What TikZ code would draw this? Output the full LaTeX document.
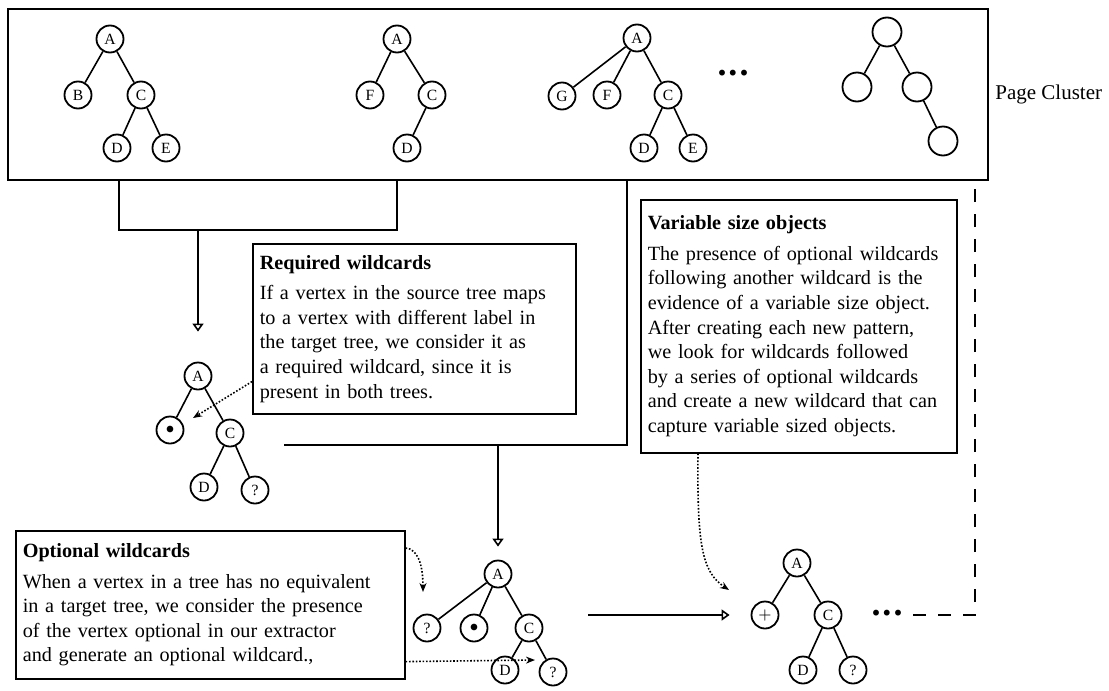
\documentclass[tikz,border=0pt]{standalone}
\usepackage{fontspec}
\setmainfont{Liberation Serif}
\usetikzlibrary{arrows.meta}
\hyphenpenalty=10000
\exhyphenpenalty=10000
\begin{document}
\begin{tikzpicture}[x=0.5pt,y=-0.5pt,
 vtx/.style={circle,draw,line width=0.9pt,minimum size=13.5pt,inner sep=0pt,font=\fontsize{7.8}{8}\selectfont},
 evtx/.style={vtx,minimum size=14.5pt},
 edge/.style={line width=0.8pt},
 conn/.style={line width=0.8pt},
 openarrow/.style={-{Triangle[open,length=4pt,width=5.5pt,line width=0.8pt]}},
 dotarrow/.style={line width=0.8pt,dash pattern=on 0.8pt off 0.9pt,-{Stealth[length=4.5pt,width=3.5pt]}},
 fbdash/.style={line width=0.8pt,dash pattern=on 6.5pt off 6pt},
 textbox/.style={draw,line width=0.8pt,align=left,inner xsep=3.5pt,inner ysep=5.5pt,anchor=north west,font=\fontsize{10.1}{12.3}\selectfont},
 ellip/.style={inner sep=0pt,anchor=base,font=\fontsize{18}{18}\selectfont\bfseries}
]
\useasboundingbox (0,0) rectangle (1109,691);

% page cluster box
\node[draw,line width=0.8pt,minimum width=490pt,minimum height=85.5pt,anchor=north west,inner sep=0pt] (cluster) at (7,8) {};
\node[anchor=west,inner sep=0pt,font=\fontsize{10.5}{12}\selectfont] (pc) at (995,94) {Page Cluster};

% tree 1
\node[vtx] (t1A) at (110,39) {A};
\node[vtx] (t1B) at (78,95) {B};
\node[vtx] (t1C) at (141,95) {C};
\node[vtx] (t1D) at (117,148) {D};
\node[vtx] (t1E) at (166,148) {E};
\draw[edge] (t1A) -- (t1B); \draw[edge] (t1A) -- (t1C);
\draw[edge] (t1C) -- (t1D); \draw[edge] (t1C) -- (t1E);

% tree 2
\node[vtx] (t2A) at (397,39) {A};
\node[vtx] (t2F) at (370,95) {F};
\node[vtx] (t2C) at (432,95) {C};
\node[vtx] (t2D) at (407,148) {D};
\draw[edge] (t2A) -- (t2F); \draw[edge] (t2A) -- (t2C);
\draw[edge] (t2C) -- (t2D);

% tree 3
\node[vtx] (t3A) at (637,38) {A};
\node[vtx] (t3G) at (562,96) {G};
\node[vtx] (t3F) at (607,95) {F};
\node[vtx] (t3C) at (668,95) {C};
\node[vtx] (t3D) at (644,148) {D};
\node[vtx] (t3E) at (693,148) {E};
\draw[edge] (t3A) -- (t3G); \draw[edge] (t3A) -- (t3F); \draw[edge] (t3A) -- (t3C);
\draw[edge] (t3C) -- (t3D); \draw[edge] (t3C) -- (t3E);
\node[ellip] (dots1) at (733,75) {.\kern1pt.\kern1pt.};

% tree 4 (empty)
\node[evtx] (t4R) at (887,32) {};
\node[evtx] (t4L) at (857,87) {};
\node[evtx] (t4M) at (917,87) {};
\node[evtx] (t4N) at (943,141) {};
\draw[edge] (t4R) -- (t4L); \draw[edge] (t4R) -- (t4M); \draw[edge] (t4M) -- (t4N);

% middle tree
\node[vtx] (mA) at (198,376) {A};
\node[vtx] (mW) at (170,430) {$\bullet$};
\node[vtx] (mC) at (230,433) {C};
\node[vtx] (mD) at (204,487) {D};
\node[vtx] (mQ) at (255,490) {?};
\draw[edge] (mA) -- (mW); \draw[edge] (mA) -- (mC);
\draw[edge] (mC) -- (mD); \draw[edge] (mC) -- (mQ);

% bottom middle tree
\node[vtx] (bA) at (498,574) {A};
\node[vtx] (bQ1) at (427,628) {?};
\node[vtx] (bW) at (474,628) {$\bullet$};
\node[vtx] (bC) at (529,628) {C};
\node[vtx] (bD) at (505,670) {D};
\node[vtx] (bQ2) at (553,672) {?};
\draw[edge] (bA) -- (bQ1); \draw[edge] (bA) -- (bW); \draw[edge] (bA) -- (bC);
\draw[edge] (bC) -- (bD); \draw[edge] (bC) -- (bQ2);

% bottom right tree
\node[vtx] (rA) at (797,563) {A};
\node[vtx] (rP) at (765,615) {$+$};
\node[vtx] (rC) at (828,615) {C};
\node[vtx] (rD) at (803,670) {D};
\node[vtx] (rQ) at (853,670) {?};
\draw[edge] (rA) -- (rP); \draw[edge] (rA) -- (rC);
\draw[edge] (rC) -- (rD); \draw[edge] (rC) -- (rQ);
\node[ellip] (dots2) at (887,615) {.\kern1pt.\kern1pt.};

% text boxes
\node[textbox,text width=154.5pt,minimum height=85pt] (req) at (252,243) {\textbf{Required wildcards}\\[3pt]
If a vertex in the source tree maps\\
to a vertex with different label in\\
the target tree, we consider it as\\
a required wildcard, since it is\\
present in both trees.};

\node[textbox,text width=151pt,minimum height=126.5pt] (var) at (640,199) {\textbf{Variable size objects}\\[3pt]
The presence of optional wildcards\\
following another wildcard is the\\
evidence of a variable size object.\\
After creating each new pattern,\\
we look for wildcards followed\\
by a series of optional wildcards\\
and create a new wildcard that can\\
capture variable sized objects.};

\node[textbox,text width=187.5pt,minimum height=74pt] (opt) at (15,530) {\textbf{Optional wildcards}\\[3pt]
When a vertex in a tree has no equivalent\\
in a target tree, we consider the presence\\
of the vertex optional in our extractor\\
and generate an optional wildcard.,};

% connectors
\coordinate (c1a) at (119,179);
\coordinate (c1b) at (397,179);
\coordinate (j1) at (198,230);
\draw[conn] (c1a) |- (c1b |- j1) -- (c1b);
\draw[conn,openarrow,shorten >=15pt] (j1) -- (mA);

\coordinate (c2a) at (627,179);
\coordinate (c2b) at (284,445);
\coordinate (j2) at (498,445);
\draw[conn] (c2a) |- (c2b);
\draw[conn,openarrow,shorten >=6.5pt] (j2) -- (bA);

\coordinate (s3) at (588,615);
\draw[conn,openarrow,shorten >=10.5pt] (s3) -- (rP);

\coordinate (fb) at (913,615);
\coordinate (fbtop) at (975,179);
\draw[fbdash] (fb) -| (fbtop);

% dotted annotation arrows
\coordinate (d1end) at (193,418);
\draw[dotarrow] ([yshift=16.5pt]req.south west) -- (d1end);
\coordinate (d2end) at (423,592);
\draw[dotarrow] ([yshift=-9pt]opt.north east) .. controls (418,549) and (423,565) .. (d2end);
\coordinate (d3end) at (535,660);
\draw[dotarrow] ([yshift=9pt]opt.south east) -- (d3end);
\coordinate (d4end) at (729,590);
\draw[dotarrow] ([xshift=29pt]var.south west) .. controls (697,545) and (702,572) .. (d4end);
\end{tikzpicture}
\end{document}
